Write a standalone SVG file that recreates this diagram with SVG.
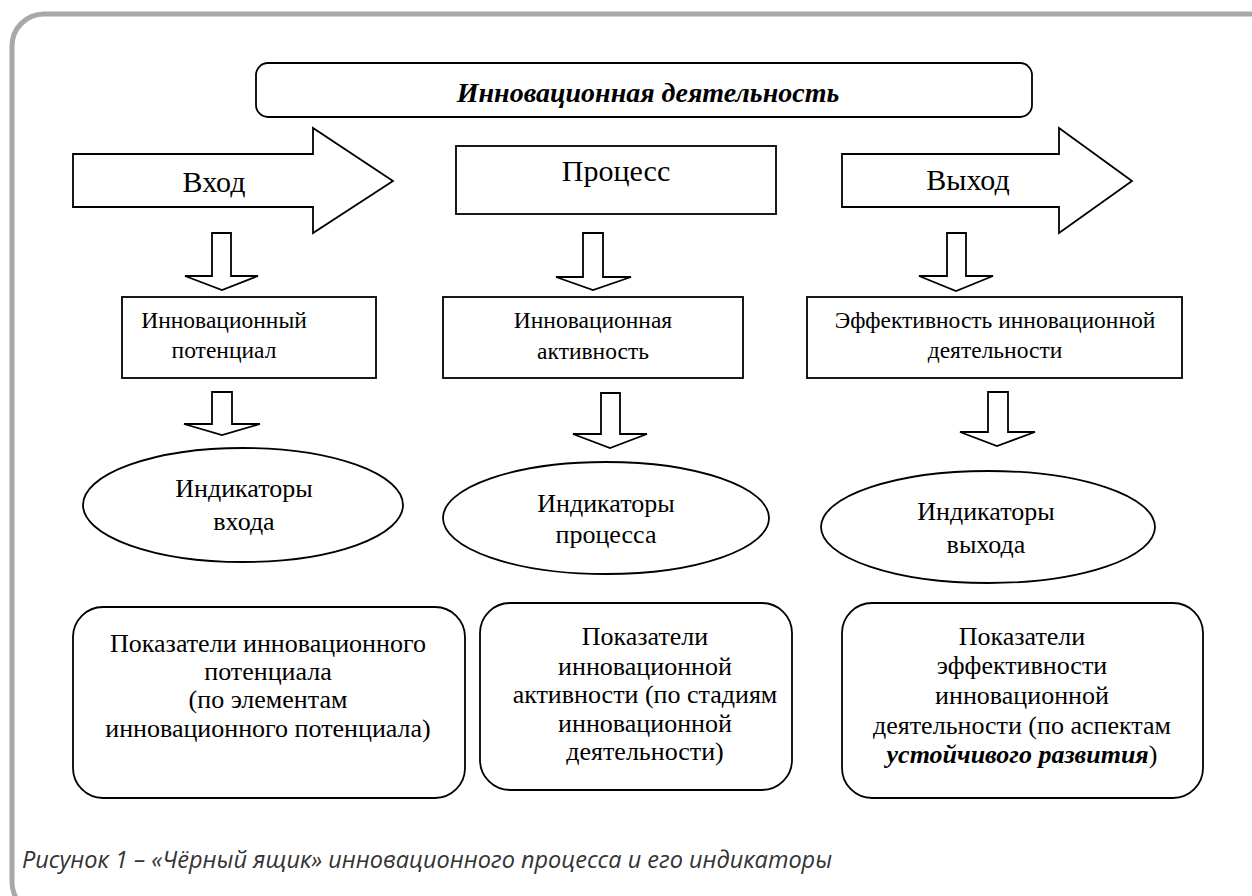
<svg xmlns="http://www.w3.org/2000/svg" width="1252" height="896" viewBox="0 0 1252 896">
<style>
.shape{fill:#fff;stroke:#000;stroke-width:1.8}
.conn{fill:#fff;stroke:#000;stroke-width:1.8;stroke-linejoin:miter}
text.t{font-family:'Liberation Serif','Times New Roman',serif;fill:#000;text-anchor:middle}
.arr{font-size:30px}
.ell{font-size:26px}
.mid{font-size:23.5px}
.low{font-size:26px}
.title{font-size:28px;font-weight:bold;font-style:italic}
text.cap{font-family:'Open Sans','Noto Sans',sans-serif;font-style:italic;font-size:23.5px;fill:#333}
</style>
<rect width="1252" height="896" fill="#fff"/>
<rect id="frame" x="12" y="14" width="1290" height="900" rx="32" fill="none" stroke="#a8a8a8" stroke-width="5"/>

<g id="title">
<rect class="shape" x="256" y="63" width="776" height="54" rx="12"/>
<text class="t title" x="648" y="102">Инновационная деятельность</text>
</g>

<g id="vhod">
<polygon class="shape" points="73,154 313,154 313,128 393,181 313,233 313,207 73,207"/>
<text class="t arr" x="214" y="192">Вход</text>
</g>

<g id="process">
<rect class="shape" x="456" y="146" width="320" height="68"/>
<text class="t arr" x="616" y="181">Процесс</text>
</g>

<g id="vyhod">
<polygon class="shape" points="842,154 1059,154 1059,128 1132,181 1059,233 1059,207 842,207"/>
<text class="t arr" x="968" y="190">Выход</text>
</g>

<g id="potential">
<rect class="shape" x="122" y="297" width="254" height="81"/>
<text class="t mid" x="224" y="328">Инновационный</text>
<text class="t mid" x="224" y="358">потенциал</text>
</g>

<g id="activity">
<rect class="shape" x="443" y="297" width="300" height="81"/>
<text class="t mid" x="593" y="328">Инновационная</text>
<text class="t mid" x="593" y="359">активность</text>
</g>

<g id="efficiency">
<rect class="shape" x="807" y="297" width="375" height="81"/>
<text class="t mid" x="995" y="328">Эффективность инновационной</text>
<text class="t mid" x="995" y="358">деятельности</text>
</g>

<g id="ind-in">
<ellipse class="shape" cx="243" cy="505" rx="160" ry="57"/>
<text class="t ell" x="244" y="497">Индикаторы</text>
<text class="t ell" x="244" y="530">входа</text>
</g>

<g id="ind-proc">
<ellipse class="shape" cx="606" cy="518" rx="163" ry="56"/>
<text class="t ell" x="606" y="512">Индикаторы</text>
<text class="t ell" x="606" y="543">процесса</text>
</g>

<g id="ind-out">
<ellipse class="shape" cx="988" cy="527" rx="167" ry="56"/>
<text class="t ell" x="986" y="520">Индикаторы</text>
<text class="t ell" x="986" y="553">выхода</text>
</g>

<g id="pok-potential">
<rect class="shape" x="73" y="607" width="392" height="191" rx="30"/>
<text class="t low" x="268" y="652">Показатели инновационного</text>
<text class="t low" x="268" y="680">потенциала</text>
<text class="t low" x="268" y="708">(по элементам</text>
<text class="t low" x="268" y="737">инновационного потенциала)</text>
</g>

<g id="pok-activity">
<rect class="shape" x="480" y="603" width="312" height="187" rx="30"/>
<text class="t low" x="645" y="645">Показатели</text>
<text class="t low" x="645" y="675">инновационной</text>
<text class="t low" x="645" y="703">активности (по стадиям</text>
<text class="t low" x="645" y="732">инновационной</text>
<text class="t low" x="645" y="760">деятельности)</text>
</g>

<g id="pok-efficiency">
<rect class="shape" x="842" y="603" width="361" height="195" rx="30"/>
<text class="t low" x="1022" y="645">Показатели</text>
<text class="t low" x="1022" y="674">эффективности</text>
<text class="t low" x="1022" y="704">инновационной</text>
<text class="t low" x="1022" y="734">деятельности (по аспектам</text>
<text class="t low" x="1022" y="763"><tspan font-weight="bold" font-style="italic">устойчивого развития</tspan>)</text>
</g>

<g id="connectors">
<polygon class="conn" points="212,233 231,233 231,276 258,276 222,290 185,276 212,276"/>
<polygon class="conn" points="583,233 603,233 603,277 631,277 593,290 556,277 583,277"/>
<polygon class="conn" points="947,233 966,233 966,276 993,276 956,291 919,276 947,276"/>
<polygon class="conn" points="212,392 232,392 232,424 260,424 222,435 184,424 212,424"/>
<polygon class="conn" points="601,393 620,393 620,434 647,434 610,448 573,434 601,434"/>
<polygon class="conn" points="988,392 1008,392 1008,432 1035,432 997,446 960,432 988,432"/>
</g>

<text class="cap" x="22" y="868">Рисунок 1 – «Чёрный ящик» инновационного процесса и его индикаторы</text>
</svg>
